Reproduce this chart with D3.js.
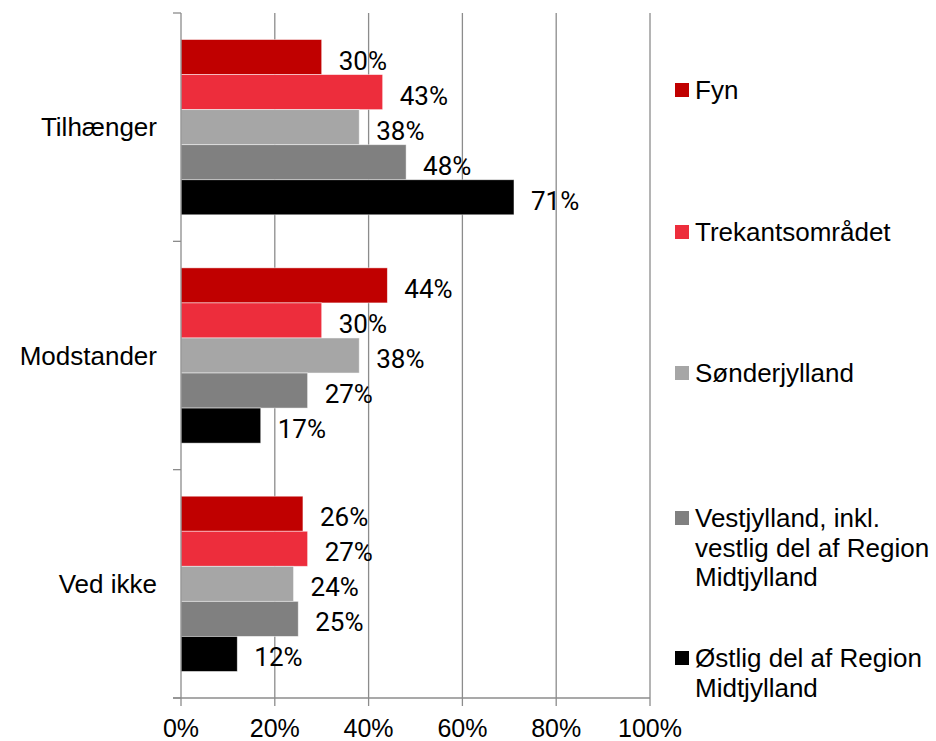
<!DOCTYPE html>
<html>
<head>
<meta charset="utf-8">
<script src="https://cdn.jsdelivr.net/npm/d3@7"></script>
<style>
  body { margin: 0; background: #fff; }
  .cat-label, .legend text, .x-label { font-family: "Liberation Sans", Arial, sans-serif; font-size: 26px; fill: #000; }
  .x-label { font-size: 25px; }
  .val-label { font-family: Roboto, "Open Sans", sans-serif; font-size: 26px; font-weight: 400; fill: #000; }
</style>
</head>
<body>
<div id="chart"></div>
<script>
// Categories (top to bottom)
const categories = ["Tilhænger", "Modstander", "Ved ikke"];

// Series names (legend lines) and colours
const seriesNames = ["Fyn", "Trekantsområdet", "Sønderjylland",
  "Vestjylland, inkl. vestlig del af Region Midtjylland",
  "Østlig del af Region Midtjylland"];
const legendLines = [
  ["Fyn"],
  ["Trekantsområdet"],
  ["Sønderjylland"],
  ["Vestjylland, inkl.", "vestlig del af Region", "Midtjylland"],
  ["Østlig del af Region", "Midtjylland"]
];
const colors = ["#c00000", "#ed2d3c", "#a6a6a6", "#808080", "#000000"];

// Values per series, in category order
const fyn = [0.30, 0.44, 0.26];
const trekant = [0.43, 0.30, 0.27];
const sonderjylland = [0.38, 0.38, 0.24];
const vestjylland = [0.48, 0.27, 0.25];
const ostjylland = [0.71, 0.17, 0.12];
const seriesValues = [fyn, trekant, sonderjylland, vestjylland, ostjylland];

const xTicks = [0, 0.2, 0.4, 0.6, 0.8, 1.0];

// Layout
const W = 936, H = 741;
const plot = { left: 181, right: 650, top: 13, bottom: 698 };

const svg = d3.select("#chart").append("svg")
  .attr("width", W)
  .attr("height", H);

const x = d3.scaleLinear().domain([0, 1]).range([plot.left, plot.right]);

const y0 = d3.scaleBand()
  .domain(categories)
  .range([plot.top, plot.bottom])
  .padding(0);

const y1 = d3.scaleBand()
  .domain(d3.range(seriesNames.length))
  .range([0, y0.bandwidth()])
  .paddingInner(0)
  .paddingOuter(0.757);

const gridColor = "#8c8c8c";

// Vertical gridlines (20%..100%)
svg.append("g")
  .selectAll("line")
  .data(xTicks.slice(1))
  .enter().append("line")
  .attr("x1", d => x(d)).attr("x2", d => x(d))
  .attr("y1", plot.top).attr("y2", plot.bottom)
  .attr("stroke", gridColor)
  .attr("stroke-width", 1.3);

// Build flat bar data
const bars = [];
categories.forEach((c, ci) => {
  seriesValues.forEach((vals, si) => {
    bars.push({ cat: c, s: si, v: vals[ci] });
  });
});

const barG = svg.append("g");
barG.selectAll("rect")
  .data(bars)
  .enter().append("rect")
  .attr("x", x(0))
  .attr("y", d => y0(d.cat) + y1(d.s))
  .attr("width", d => x(d.v) - x(0))
  .attr("height", y1.bandwidth())
  .attr("fill", d => colors[d.s])
  .attr("stroke", "#ffffff")
  .attr("stroke-opacity", 0.6)
  .attr("stroke-width", 0.8);

// Value labels
barG.selectAll("text")
  .data(bars)
  .enter().append("text")
  .attr("class", "val-label")
  .attr("x", d => x(d.v) + 17)
  .attr("y", d => y0(d.cat) + y1(d.s) + y1.bandwidth() / 2 + 12.5)
  .text(d => Math.round(d.v * 100) + "%");

// Y axis (left) with category ticks at band boundaries
const axisG = svg.append("g").attr("stroke", gridColor).attr("stroke-width", 1.3);
axisG.append("line")
  .attr("x1", x(0)).attr("x2", x(0))
  .attr("y1", plot.top).attr("y2", plot.bottom);
const boundaries = categories.map(c => y0(c)).concat([plot.bottom]);
axisG.selectAll(".ytick")
  .data(boundaries)
  .enter().append("line")
  .attr("class", "ytick")
  .attr("x1", x(0) - 8).attr("x2", x(0))
  .attr("y1", d => d).attr("y2", d => d);

// X axis (bottom)
axisG.append("line")
  .attr("x1", x(0) - 8).attr("x2", x(1))
  .attr("y1", plot.bottom).attr("y2", plot.bottom);
axisG.selectAll(".xtick")
  .data(xTicks)
  .enter().append("line")
  .attr("class", "xtick")
  .attr("x1", d => x(d)).attr("x2", d => x(d))
  .attr("y1", plot.bottom).attr("y2", plot.bottom + 8);

svg.append("g")
  .selectAll("text")
  .data(xTicks)
  .enter().append("text")
  .attr("class", "x-label")
  .attr("x", d => x(d))
  .attr("y", 737)
  .attr("text-anchor", "middle")
  .text(d => Math.round(d * 100) + "%");

// Category labels
svg.append("g")
  .selectAll("text")
  .data(categories)
  .enter().append("text")
  .attr("class", "cat-label")
  .attr("x", 157)
  .attr("y", d => y0(d) + y0.bandwidth() / 2 + 9)
  .attr("text-anchor", "end")
  .text(d => d);

// Legend
const legendY = [90, 232, 373, 518, 658];
const lineH = 29.5;
const legend = svg.append("g").attr("class", "legend");
legendLines.forEach((lines, i) => {
  const g = legend.append("g");
  g.append("rect")
    .attr("x", 675)
    .attr("y", legendY[i] - 7)
    .attr("width", 14)
    .attr("height", 14)
    .attr("fill", colors[i]);
  lines.forEach((ln, j) => {
    g.append("text")
      .attr("x", 695)
      .attr("y", legendY[i] + j * lineH + 9)
      .text(ln);
  });
});
</script>
</body>
</html>
